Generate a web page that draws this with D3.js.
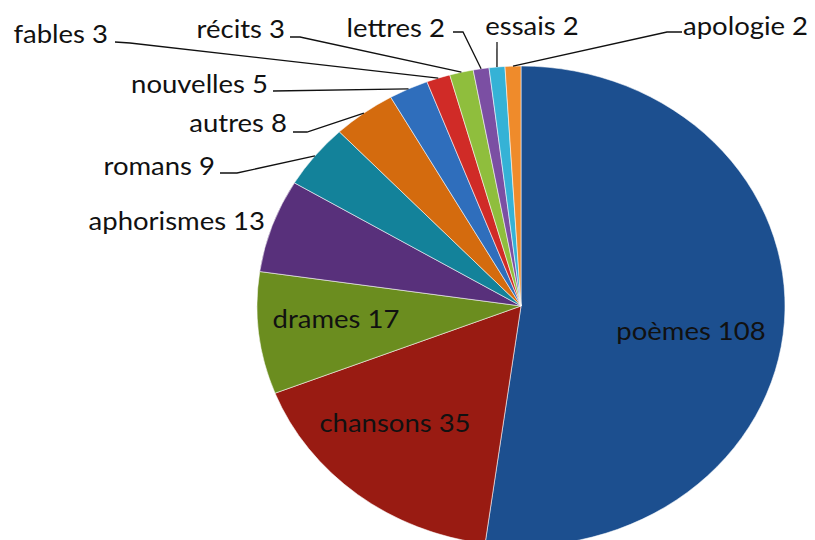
<!DOCTYPE html>
<html>
<head>
<meta charset="utf-8">
<script src="https://cdn.jsdelivr.net/npm/d3@7"></script>
<style>
  html, body { margin: 0; padding: 0; background: #fff; }
  #chart { width: 815px; height: 540px; overflow: hidden; }
  text { font-family: Lato, "Open Sans", sans-serif; font-size: 25px; fill: #111; }
</style>
</head>
<body>
<div id="chart"></div>
<script>
// genres and counts, clockwise from 12 o'clock
const genres = ["poèmes", "chansons", "drames", "aphorismes", "romans", "autres",
  "nouvelles", "fables", "récits", "lettres", "essais", "apologie"];
const counts = [108, 35, 17, 13, 9, 8, 5, 3, 3, 2, 2, 2];
const colors = ["#1c4f8f", "#991b12", "#6b8d1f", "#58307b", "#13829a", "#d46b0e",
  "#2f6ebc", "#d02b27", "#8fbe3d", "#7b4fa3", "#35b2d6", "#ef8b2b"];

// where each label sits (text anchor point + leader elbow points)
const labelLayout = {
  "poèmes":     { x: 691, y: 340, anchor: "middle" },
  "chansons":   { x: 395, y: 432, anchor: "middle" },
  "drames":     { x: 336, y: 328, anchor: "middle" },
  "aphorismes": { x: 265, y: 230, anchor: "end" },
  "romans":     { x: 215, y: 175, anchor: "end", line: [[220, 173], [237, 173]] },
  "autres":     { x: 287, y: 132, anchor: "end", line: [[293, 132], [307, 132]] },
  "nouvelles":  { x: 268, y: 93,  anchor: "end", line: [[273, 91]] },
  "fables":     { x: 108, y: 43,  anchor: "end", line: [[115, 42], [130, 43]] },
  "récits":     { x: 285, y: 38,  anchor: "end", line: [[290, 37], [300, 37]] },
  "lettres":    { x: 445, y: 37,  anchor: "end", line: [[453, 32], [463, 32]] },
  "essais":     { x: 532, y: 35,  anchor: "middle", line: [[497, 42]] },
  "apologie":   { x: 683, y: 35,  anchor: "start", line: [[682, 32], [667, 32]] },
};

const width = 815;
const height = 540;
const cx = 521, cy = 306;
const r = 240;
const sx = 1.1; // the whole figure is a bit wider than tall

const data = genres.map((g, i) => ({ genre: g, count: counts[i], color: colors[i] }));

const svg = d3.select("#chart")
  .append("svg")
  .attr("width", width)
  .attr("height", height);

const pie = d3.pie().sort(null).value((d) => d.count);
const arcs = pie(data);

const arc = d3.arc().innerRadius(0).outerRadius(r);
const edge = d3.arc().innerRadius(r).outerRadius(r);

const slices = svg.append("g")
  .attr("transform", `translate(${cx},${cy}) scale(${sx},1)`);

slices.selectAll("path")
  .data(arcs)
  .join("path")
  .attr("d", arc)
  .attr("fill", (d) => d.data.color)
  .attr("stroke", "rgba(255,255,255,0.55)")
  .attr("stroke-width", 1)
  .attr("vector-effect", "non-scaling-stroke");

// leader lines from the slice edge to the label
const leaders = svg.append("g").attr("class", "leaders");
arcs.forEach((d) => {
  const lay = labelLayout[d.data.genre];
  if (!lay.line) return;
  const [ex, ey] = edge.centroid(d);
  const pts = lay.line.concat([[cx + ex * sx, cy + ey]]);
  leaders.append("path")
    .attr("d", d3.line()(pts))
    .attr("fill", "none")
    .attr("stroke", "#111")
    .attr("stroke-width", 1.3);
});

svg.append("g")
  .selectAll("text")
  .data(arcs)
  .join("text")
  .attr("transform", (d) => {
    const lay = labelLayout[d.data.genre];
    return `translate(${lay.x},${lay.y}) scale(${sx},1)`;
  })
  .attr("text-anchor", (d) => labelLayout[d.data.genre].anchor)
  .text((d) => `${d.data.genre} ${d.data.count}`);
</script>
</body>
</html>
